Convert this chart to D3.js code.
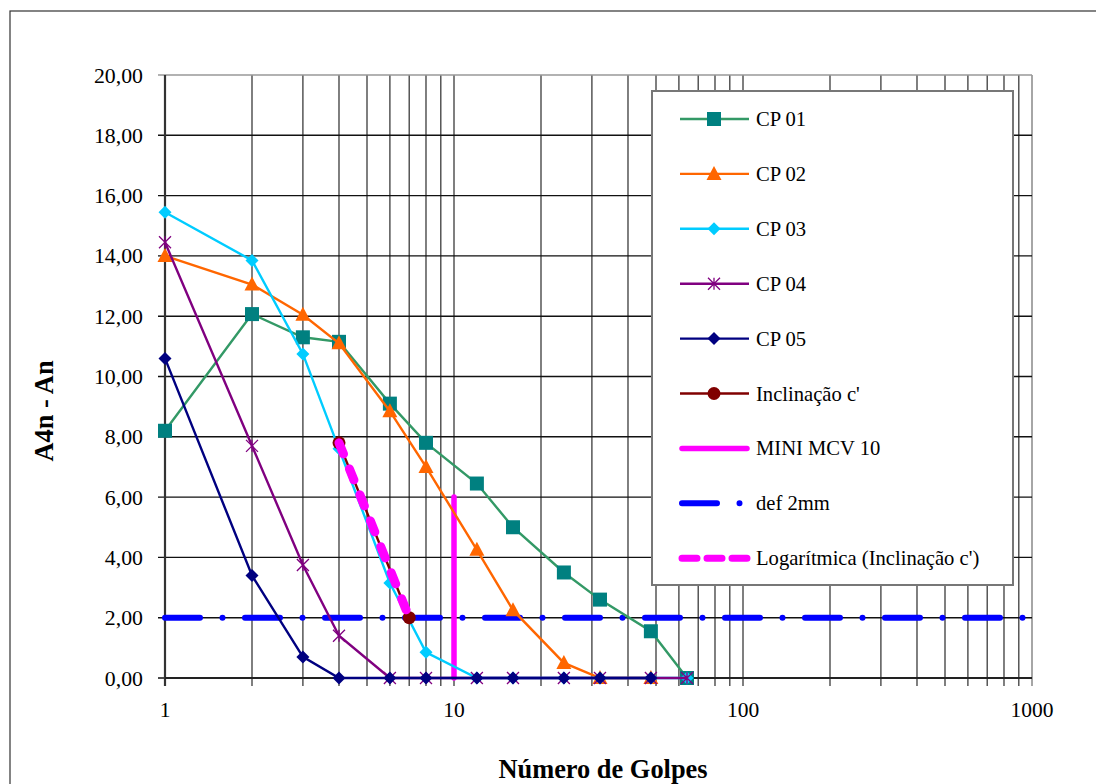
<!DOCTYPE html>
<html>
<head>
<meta charset="utf-8">
<script src="https://cdn.jsdelivr.net/npm/d3@7"></script>
<style>
  body { margin: 0; background: #fff; }
  text { font-family: "Liberation Serif", "Times New Roman", serif; }
</style>
</head>
<body>
<script>
// data
var golpes = [1, 2, 3, 4, 6, 8, 12, 16, 24, 32, 48, 64];
var cp01 = [8.2, 12.07, 11.3, 11.15, 9.1, 7.8, 6.45, 5.0, 3.5, 2.6, 1.55, 0];
var cp02 = [14.0, 13.05, 12.05, 11.1, 8.85, 7.0, 4.25, 2.25, 0.5, 0, 0];
var cp03 = [15.45, 13.85, 10.75, 7.6, 3.15, 0.85, 0, 0, 0, 0, 0, 0];
var cp04 = [14.45, 7.7, 3.75, 1.4, 0, 0, 0, 0, 0, 0, 0, 0];
var cp05 = [10.6, 3.4, 0.7, 0, 0, 0, 0, 0, 0, 0, 0];
var inclX = [4, 7];
var inclY = [7.8, 2.0];
var miniX = [10, 10];
var miniY = [0, 6];
var defX = [1, 1000];
var defY = [2, 2];
var yTicks = [0, 2, 4, 6, 8, 10, 12, 14, 16, 18, 20];
var xLabels = [1, 10, 100, 1000];

var W = 1096, H = 784;
var margin = {left: 165, right: 1032, top: 75, bottom: 678};

var svg = d3.select("body").append("svg")
    .attr("width", W).attr("height", H);

// chart border
svg.append("rect")
    .attr("x", 10).attr("y", 11)
    .attr("width", 1100).attr("height", 800)
    .attr("fill", "#fff").attr("stroke", "#333").attr("stroke-width", 1.2);

var x = d3.scaleLog().domain([1, 1000]).range([margin.left, margin.right]);
var y = d3.scaleLinear().domain([0, 20]).range([margin.bottom, margin.top]);

// vertical grid
var minor = [];
for (var d = 1; d < 1000; d *= 10) {
    for (var k = 1; k < 10; k++) minor.push(d * k);
}
minor.push(1000);
svg.append("g").selectAll("line").data(minor).enter().append("line")
    .attr("x1", function(v) { return x(v); }).attr("x2", function(v) { return x(v); })
    .attr("y1", y(20)).attr("y2", y(0) + 8)
    .attr("stroke", function(v) { return v == 1000 ? "#888" : "#555"; })
    .attr("stroke-width", 1.5);

// horizontal grid
svg.append("g").selectAll("line").data(yTicks).enter().append("line")
    .attr("x1", margin.left - 7).attr("x2", margin.right)
    .attr("y1", function(v) { return y(v); }).attr("y2", function(v) { return y(v); })
    .attr("stroke", function(v) { return v == 20 ? "#999" : "#111"; })
    .attr("stroke-width", 1.4);

// axes lines
svg.append("line").attr("x1", margin.left).attr("x2", margin.left)
    .attr("y1", y(20)).attr("y2", y(0) + 8).attr("stroke", "#333").attr("stroke-width", 2.2);
svg.append("line").attr("x1", margin.left).attr("x2", margin.right)
    .attr("y1", y(0)).attr("y2", y(0)).attr("stroke", "#222").attr("stroke-width", 2.2);

// tick labels
svg.append("g").selectAll("text").data(yTicks).enter().append("text")
    .attr("x", 143).attr("y", function(v) { return y(v) + 7.5; })
    .attr("text-anchor", "end").attr("font-size", 21.8)
    .text(function(v) { return d3.format(".2f")(v).replace(".", ","); });

svg.append("g").selectAll("text").data(xLabels).enter().append("text")
    .attr("x", function(v) { return x(v); }).attr("y", 717)
    .attr("text-anchor", "middle").attr("font-size", 21.5)
    .text(function(v) { return v; });

// axis titles
svg.append("text").attr("transform", "translate(53,411) rotate(-90)")
    .attr("text-anchor", "middle").attr("font-size", 26.4).attr("font-weight", "bold")
    .text("A4n - An");
svg.append("text").attr("x", 603).attr("y", 778)
    .attr("text-anchor", "middle").attr("font-size", 26.4).attr("font-weight", "bold")
    .text("Número de Golpes");

// marker drawing
function drawMarker(g, type, cx, cy, col) {
    if (type == "square") {
        g.append("rect").attr("x", cx - 7).attr("y", cy - 7).attr("width", 14).attr("height", 14)
            .attr("fill", col);
    } else if (type == "triangle") {
        g.append("path").attr("d", "M" + cx + "," + (cy - 8) + "L" + (cx + 7.5) + "," + (cy + 6) + "L" + (cx - 7.5) + "," + (cy + 6) + "Z")
            .attr("fill", col);
    } else if (type == "diamond") {
        g.append("path").attr("d", "M" + cx + "," + (cy - 6.5) + "L" + (cx + 6.5) + "," + cy + "L" + cx + "," + (cy + 6.5) + "L" + (cx - 6.5) + "," + cy + "Z")
            .attr("fill", col);
    } else if (type == "star") {
        g.append("path").attr("d", "M" + (cx - 6) + "," + (cy - 6) + "L" + (cx + 6) + "," + (cy + 6) +
            "M" + (cx + 6) + "," + (cy - 6) + "L" + (cx - 6) + "," + (cy + 6) +
            "M" + cx + "," + (cy - 6) + "L" + cx + "," + (cy + 6))
            .attr("stroke", col).attr("stroke-width", 1.3).attr("fill", "none");
    } else if (type == "circle") {
        g.append("circle").attr("cx", cx).attr("cy", cy).attr("r", 6.5).attr("fill", col);
    }
}

var series = [
    {name: "CP 01", ys: cp01, line: "#339966", mark: "#008080", type: "square"},
    {name: "CP 02", ys: cp02, line: "#FF6600", mark: "#FF6600", type: "triangle"},
    {name: "CP 03", ys: cp03, line: "#00CCFF", mark: "#00CCFF", type: "diamond"},
    {name: "CP 04", ys: cp04, line: "#800080", mark: "#800080", type: "star"},
    {name: "CP 05", ys: cp05, line: "#000080", mark: "#000080", type: "diamond"}
];

var lineGen = d3.line().x(function(p) { return x(p[0]); }).y(function(p) { return y(p[1]); });

// MINI MCV 10
svg.append("path").attr("d", lineGen(d3.zip(miniX, miniY)))
    .attr("stroke", "#FF00FF").attr("stroke-width", 5.5).attr("fill", "none")
    .attr("stroke-linecap", "round");

// def 2mm
svg.append("path").attr("d", lineGen(d3.zip(defX, defY)))
    .attr("stroke", "#0000FF").attr("stroke-width", 6).attr("fill", "none")
    .attr("stroke-linecap", "round").attr("stroke-dasharray", "35,22.5,0,22.5");

series.forEach(function(s) {
    var pts = d3.zip(golpes.slice(0, s.ys.length), s.ys);
    var g = svg.append("g");
    g.append("path").attr("d", lineGen(pts))
        .attr("stroke", s.line).attr("stroke-width", 2.4).attr("fill", "none");
    pts.forEach(function(p) { drawMarker(g, s.type, x(p[0]), y(p[1]), s.mark); });
});

// Inclinação c'
var inclPts = d3.zip(inclX, inclY);
var gi = svg.append("g");
gi.append("path").attr("d", lineGen(inclPts)).attr("stroke", "#800000").attr("stroke-width", 2.4).attr("fill", "none");
inclPts.forEach(function(p) { drawMarker(gi, "circle", x(p[0]), y(p[1]), "#800000"); });

// logarithmic trendline through the Inclinação points
var la = (inclY[1] - inclY[0]) / (Math.log(inclX[1]) - Math.log(inclX[0]));
var lb = inclY[0] - la * Math.log(inclX[0]);
var trend = inclX.map(function(v) { return [v, la * Math.log(v) + lb]; });
svg.append("path").attr("d", lineGen(trend))
    .attr("stroke", "#FF00FF").attr("stroke-width", 9).attr("fill", "none")
    .attr("stroke-linecap", "round").attr("stroke-dasharray", "12,16");

// legend
var leg = svg.append("g");
leg.append("rect").attr("x", 652).attr("y", 91).attr("width", 361).attr("height", 494)
    .attr("fill", "#fff").attr("stroke", "#777").attr("stroke-width", 2);

var legItems = [
    {name: "CP 01", line: "#339966", mark: "#008080", type: "square"},
    {name: "CP 02", line: "#FF6600", mark: "#FF6600", type: "triangle"},
    {name: "CP 03", line: "#00CCFF", mark: "#00CCFF", type: "diamond"},
    {name: "CP 04", line: "#800080", mark: "#800080", type: "star"},
    {name: "CP 05", line: "#000080", mark: "#000080", type: "diamond"},
    {name: "Inclinação c'", line: "#800000", mark: "#800000", type: "circle"},
    {name: "MINI MCV 10", line: "#FF00FF", width: 5.5, cap: "round"},
    {name: "def 2mm", line: "#0000FF", width: 6, dash: "35,22.5,0,22.5", cap: "round"},
    {name: "Logarítmica (Inclinação c')", line: "#FF00FF", width: 7, dash: "15,10", cap: "round"}
];
legItems.forEach(function(it, i) {
    var cy = 119 + i * 54.9;
    var l = leg.append("line").attr("x1", it.cap ? 682 : 680).attr("x2", it.cap ? 747 : 749)
        .attr("y1", cy).attr("y2", cy)
        .attr("stroke", it.line).attr("stroke-width", it.width || 2.4);
    if (it.cap) l.attr("stroke-linecap", it.cap);
    if (it.dash) l.attr("stroke-dasharray", it.dash);
    if (it.type) drawMarker(leg, it.type, 714, cy, it.mark);
    leg.append("text").attr("x", 756).attr("y", cy + 7).attr("font-size", 20.6).text(it.name);
});
</script>
</body>
</html>
